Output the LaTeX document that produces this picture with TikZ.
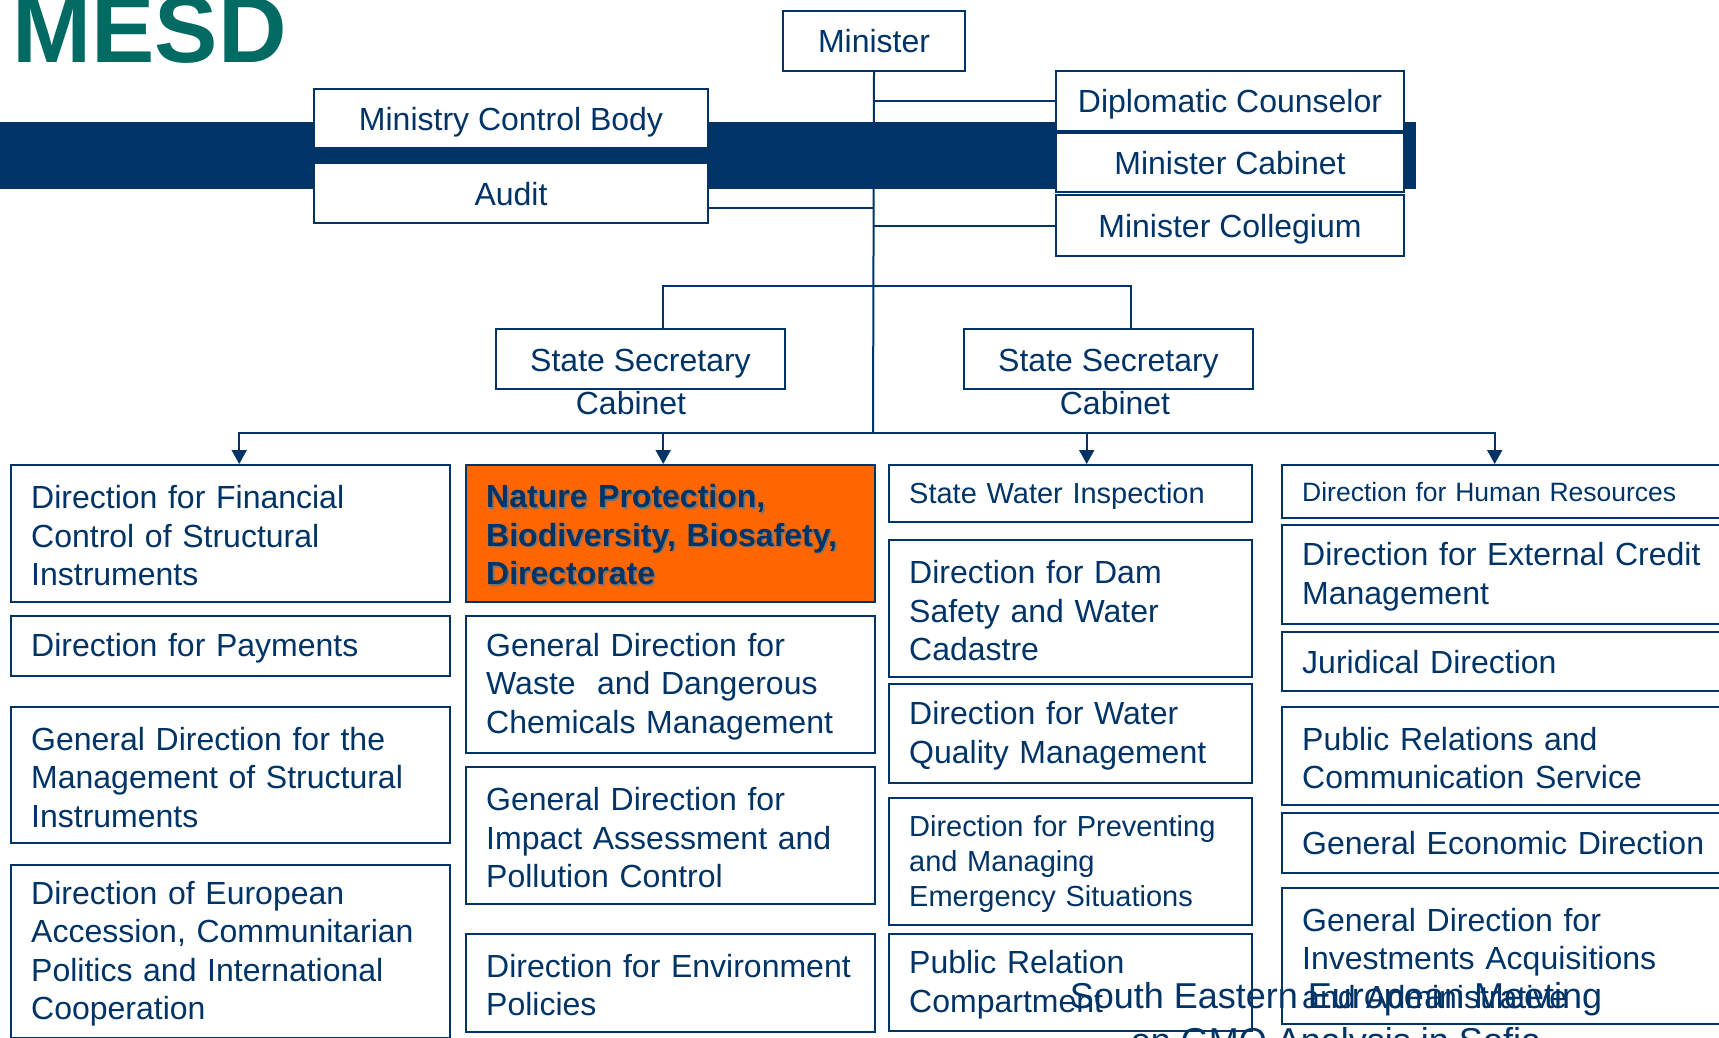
\documentclass[tikz,border=0pt]{standalone}
\usepackage{fontspec}
\setmainfont{Liberation Sans}
\usepackage{tikz}
\usetikzlibrary{arrows.meta}

\definecolor{navy}{HTML}{003366}
\definecolor{mesdteal}{HTML}{006A63}
\definecolor{natorange}{HTML}{FF6600}

\pgfdeclarelayer{lines}
\pgfdeclarelayer{band}
\pgfsetlayers{lines,band,main}

\newcommand{\shadowtext}[1]{\makebox[0pt][l]{\hspace*{1.6pt}\raisebox{-1.6pt}{\color{black!55}#1}}#1}

\tikzset{
  link/.style={draw=navy, line width=2pt},
  down/.style={link, -{Triangle[length=14pt,width=15pt]}},
  topbox/.style={draw=navy, line width=2pt, fill=white, text=navy,
    font=\fontsize{32}{38.4}\selectfont, inner sep=0pt, anchor=north west,
    text height=27pt, text depth=3pt},
  unit/.style={draw=navy, line width=2.4pt, fill=white, text=navy,
    font=\fontsize{32}{38.4}\selectfont, align=left, inner xsep=20pt,
    inner ysep=0pt, anchor=north west,
    execute at end node={\par\vspace*{-4pt}}},
  colA/.style={unit, minimum width=439pt, text width=399pt},
  colB/.style={unit, minimum width=409pt, text width=369pt},
  colC/.style={unit, minimum width=363pt, text width=323pt},
  colD/.style={unit, minimum width=460pt, text width=420pt},
  smaller/.style={font=\fontsize{29}{35}\selectfont},
}

\begin{document}
\begin{tikzpicture}[x=1pt,y=-1pt]

\useasboundingbox (0,0) rectangle (1719,1038);
\clip (0,0) rectangle (1719,1038);

% Title
\node[anchor=base west, inner sep=0pt, text=mesdteal,
      font=\fontsize{95}{95}\selectfont\bfseries] (title) at (12,63) {MESD};

% Top level
\node[topbox, minimum width=182pt, minimum height=60pt] (minister) at (782,10) {Minister};
\coordinate (hub)   at (873,433);
\coordinate (ssbar) at (873,286);

\node[topbox, minimum width=394pt, minimum height=59pt] (mcb) at (313,88) {Ministry Control Body};
\node[topbox, minimum width=394pt, minimum height=60pt] (audit) at (313,162) {Audit};
\node[topbox, minimum width=348pt, minimum height=60pt] (diplo) at (1055,70) {Diplomatic Counselor};
\node[topbox, minimum width=348pt, minimum height=59pt] (mincab) at (1055,132) {Minister Cabinet};
\node[topbox, minimum width=348pt, minimum height=61pt] (mincol) at (1055,194) {Minister Collegium};

% Band behind the top boxes
\begin{pgfonlayer}{band}
  \fill[navy] (0,122) rectangle (1416,189);
\end{pgfonlayer}

% Trunk and side branches
\coordinate (auditjoin) at ([yshift=-15pt]audit.east);
\begin{pgfonlayer}{lines}
  \draw[link] (minister.south) -- (hub);
  \draw[link] (auditjoin) -- (auditjoin -| hub);
  \draw[link] (diplo.west) -- (diplo.west -| hub);
  \draw[link] (mincol.west) -- (mincol.west -| hub);
\end{pgfonlayer}

% State secretaries
\node[topbox, minimum width=289pt, minimum height=60pt] (ssl) at (495,328) {State Secretary};
\node[topbox, minimum width=289pt, minimum height=60pt] (ssr) at (963,328) {State Secretary};
\node[anchor=base, inner sep=0pt, text=navy, font=\fontsize{32}{38.4}\selectfont] (sslcab) at (631,414) {Cabinet};
\node[anchor=base, inner sep=0pt, text=navy, font=\fontsize{32}{38.4}\selectfont] (ssrcab) at (1115,414) {Cabinet};
\draw[link] ([xshift=22.5pt]ssl.north) |- (ssbar) -| ([xshift=22.5pt]ssr.north);

% Column 1
\node[colA, minimum height=137pt] (finctrl) at (10,464)
  {Direction for Financial\\Control of Structural\\Instruments};
\node[colA, minimum height=60pt] (payments) at (10,615) {Direction for Payments};
\node[colA, minimum height=136pt] (mgmtsi) at (10,706)
  {General Direction for the\\Management of Structural\\Instruments};
\node[colA, minimum height=173pt] (euro) at (10,864)
  {Direction of European\\Accession, Communitarian\\Politics and International\\Cooperation};

% Column 2
\node[colB, minimum height=137pt, fill=natorange, font=\fontsize{32}{38.4}\selectfont\bfseries] (nature) at (465,464)
  {\shadowtext{Nature Protection,}\\\shadowtext{Biodiversity, Biosafety,}\\\shadowtext{Directorate}};
\node[colB, minimum height=137pt] (waste) at (465,615)
  {General Direction for\\Waste\ \ and Dangerous\\Chemicals Management};
\node[colB, minimum height=137pt] (impact) at (465,766)
  {General Direction for\\Impact Assessment and\\Pollution Control};
\node[colB, minimum height=98pt] (envpol) at (465,933)
  {Direction for Environment\\Policies};

% Column 3
\node[colC, smaller, minimum height=57pt] (swi) at (888,464) {State Water Inspection};
\node[colC, minimum height=137pt] (dam) at (888,539)
  {Direction for Dam\\Safety and Water\\Cadastre};
\node[colC, minimum height=99pt] (wqm) at (888,683)
  {Direction for Water\\Quality Management};
\node[colC, smaller, minimum height=127pt] (prevent) at (888,797)
  {Direction for Preventing\\and Managing\\Emergency Situations};
\node[colC, minimum height=97pt] (prcomp) at (888,933)
  {Public Relation\\Compartment};

% Column 4
\node[colD, font=\fontsize{26.5}{32}\selectfont, minimum height=53pt] (hr) at (1281,464)
  {Direction for Human Resources};
\node[colD, minimum height=99pt] (extcredit) at (1281,524)
  {Direction for External Credit\\Management};
\node[colD, minimum height=59pt] (juridical) at (1281,631) {Juridical Direction};
\node[colD, minimum height=98pt] (prcomm) at (1281,706)
  {Public Relations and\\Communication Service};
\node[colD, minimum height=60pt] (economic) at (1281,812) {General Economic Direction};
\node[colD, minimum height=136pt] (invest) at (1281,887)
  {General Direction for\\Investments Acquisitions\\and Administrative};

% Arrows to the columns
\draw[down] (hub) -| ([xshift=8.5pt]finctrl.north);
\draw[down] (hub) -| ([xshift=-7.5pt]nature.north);
\draw[down] (hub) -| ([xshift=16pt]swi.north);
\draw[down] (hub) -| ([xshift=-17.5pt]hr.north);

% Footer
\node[anchor=base, align=center, inner sep=0pt, text=navy,
      font=\fontsize{36}{45}\selectfont] (footer) at (1336,1053)
  {South Eastern European Meeting\\on GMO Analysis in Sofia};

\end{tikzpicture}
\end{document}
